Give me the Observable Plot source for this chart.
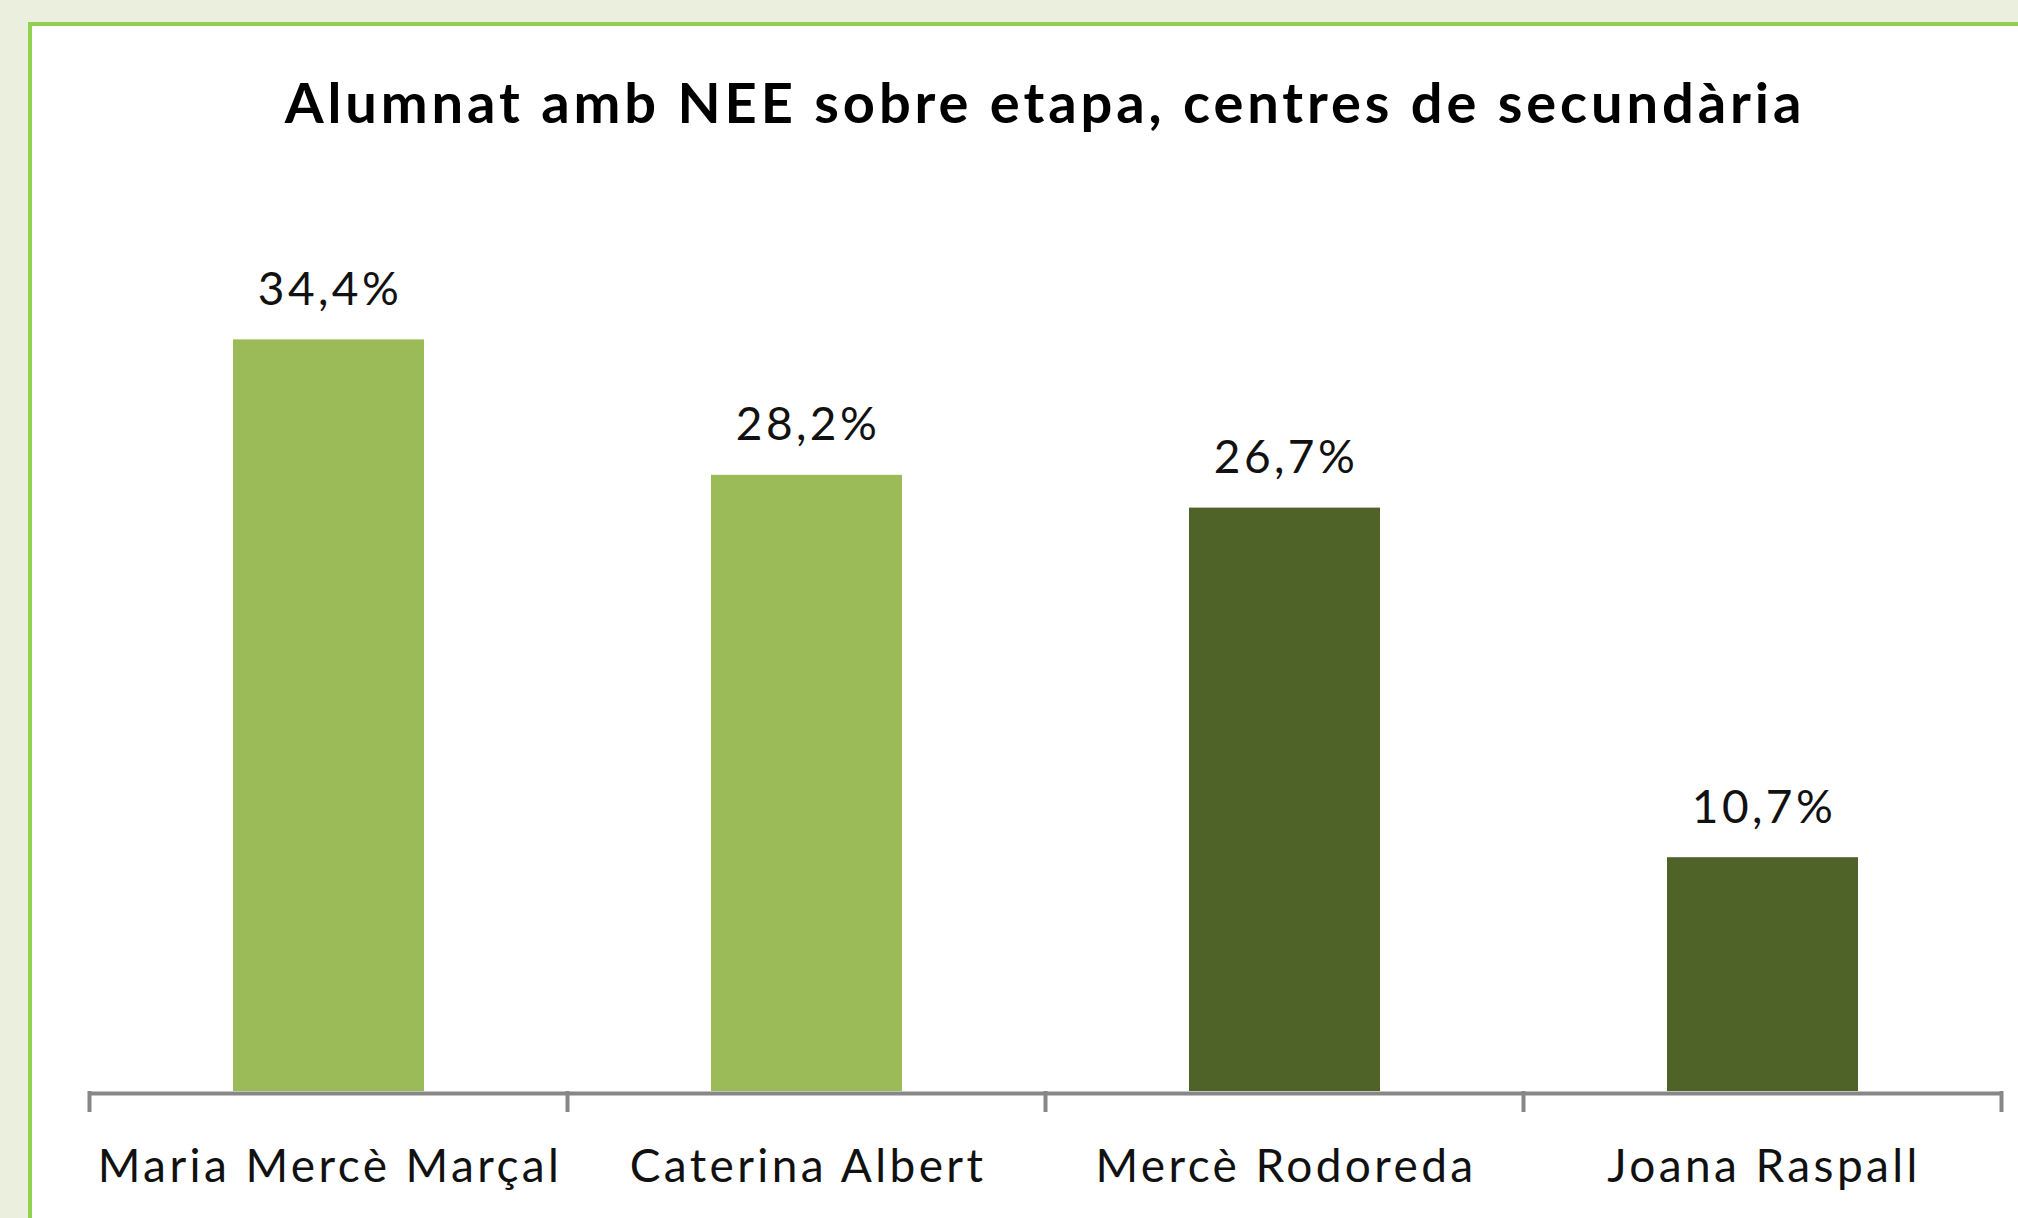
<!DOCTYPE html>
<html><head><meta charset="utf-8">
<script src="https://cdn.jsdelivr.net/npm/d3@7"></script>
<script src="https://cdn.jsdelivr.net/npm/@observablehq/plot@0.6"></script>
<style>
html,body{margin:0;padding:0;background:#EBF0DE;width:2018px;height:1218px;overflow:hidden;}
#panel{position:absolute;left:28px;top:22px;width:1990px;height:1196px;background:#fff;border-left:4px solid #92D050;border-top:4px solid #92D050;box-sizing:border-box;}
#title{position:absolute;left:45px;width:2000px;top:74px;text-align:center;font-family:Lato,sans-serif;font-weight:700;font-size:56px;line-height:56px;letter-spacing:3.9px;color:#000;margin:0;}
#chart{position:absolute;left:0;top:200px;}
</style></head>
<body>
<div id="panel"></div>
<h1 id="title">Alumnat amb NEE sobre etapa, centres de secundària</h1>
<div id="chart"></div>
<script>
const centres = ["Maria Mercè Marçal", "Caterina Albert", "Mercè Rodoreda", "Joana Raspall"];
const percentatges = [34.4, 28.2, 26.7, 10.7];
const grups = ["clar", "clar", "fosc", "fosc"];
const data = centres.map((c, i) => ({centre: c, pct: percentatges[i], grup: grups[i]}));

const plot = Plot.plot({
  width: 2018, height: 1018,
  marginLeft: 89, marginRight: 16, marginTop: 17, marginBottom: 127,
  style: {fontFamily: "Lato, sans-serif", background: "transparent", overflow: "visible", letterSpacing: "3.4px"},
  x: {domain: centres, paddingInner: 0.6, paddingOuter: 0.3, label: null},
  y: {domain: [0, 40], axis: null},
  color: {domain: ["clar", "fosc"], range: ["#9BBB59", "#4F6228"]},
  marks: [
    Plot.barY(data, {x: "centre", y: "pct", fill: "grup"}),
    Plot.ruleY([0], {stroke: "#878787", strokeWidth: 4, dy: 2}),
    Plot.text(data, {x: "centre", y: "pct", text: d => d.pct.toFixed(1).replace(".", ",") + "%", lineAnchor: "bottom", dy: -35, dx: 1, fontSize: 46, fill: "#111"}),
    Plot.axisX({tickSize: 0, tickPadding: 58, dx: 1, fontSize: 46, label: null, color: "#111"})
  ]
});
document.getElementById("chart").append(plot);

const xs = plot.scale("x");
const gap = xs.step - xs.bandwidth;
const edges = centres.map(c => xs.apply(c) - gap / 2);
edges.push(xs.apply(centres[centres.length - 1]) + xs.bandwidth + gap / 2);
const y0 = plot.scale("y").apply(0);
d3.select(plot).append("g").selectAll("line").data(edges).join("line")
  .attr("x1", d => d).attr("x2", d => d)
  .attr("y1", y0).attr("y2", y0 + 21)
  .attr("stroke", "#878787").attr("stroke-width", 4);
</script>
</body></html>
